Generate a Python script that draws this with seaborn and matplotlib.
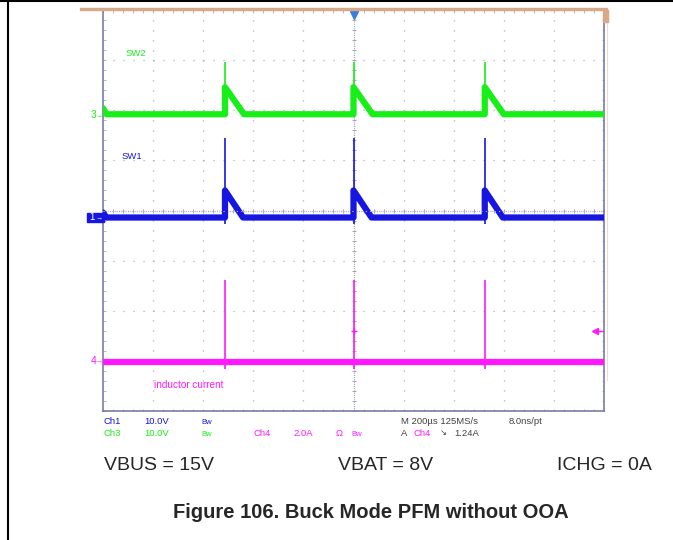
import matplotlib
matplotlib.use("Agg")
import matplotlib.pyplot as plt
from matplotlib.lines import Line2D
from matplotlib.patches import Rectangle
import pandas as pd
import seaborn as sns

# scope screen: 10 div x 200us horizontally, 8 div vertically (values in div)
pulse_t = [487, 1000, 1524]

sw2_start, sw2_base, sw2_top, sw2_drop, sw2_decay = 2.04, 1.92, 2.96, 2.46, 76
sw1_start, sw1_base, sw1_top, sw1_drop, sw1_decay, sw1_low = -0.04, -0.14, 1.44, 0.40, 72, -0.26
il_base, il_top, il_low = -3.02, -1.38, -3.16
trig_level = -2.40

GREEN = "#18ee18"
BLUE = "#1616e0"
MAGENTA = "#ff18ff"
GRAY = "#404040"
GRID = "#a4a4bc"
FRAME = "#7c7ca4"

readouts = [
    ("Ch1", 103, 422, BLUE, 6.8), ("10.0V", 144, 422, BLUE, 6.8), ("Bw", 201, 422, BLUE, 5.5),
    ("M 200µs 125MS/s", 401, 422, GRAY, 6.8), ("8.0ns/pt", 509, 422, GRAY, 6.8),
    ("Ch3", 103, 434, GREEN, 6.8), ("10.0V", 144, 434, GREEN, 6.8), ("Bw", 201, 434, GREEN, 5.5),
    ("Ch4", 253, 434, MAGENTA, 6.8), ("2.0A", 293, 434, MAGENTA, 6.8),
    ("Ω", 336, 434, MAGENTA, 6.8), ("Bw", 351, 434, MAGENTA, 5.5),
    ("A", 401, 434, GRAY, 6.8), ("Ch4", 413, 434, MAGENTA, 6.8),
    ("↘", 440, 434, GRAY, 6.0), ("1.24A", 454, 434, GRAY, 6.8),
]
conditions = ["VBUS = 15V", "VBAT = 8V", "ICHG = 0A"]
condition_x = [159, 386, 604]
caption = "Figure 106. Buck Mode PFM without OOA"

W, H = 673, 540
fx = lambda x: x / W
fy = lambda y: 1 - y / H


def trace(start, base, drop, decay):
    t, v = [0, 14], [start, base]
    for p in pulse_t:
        t += [p, p, p + decay]
        v += [base, drop, base]
    t.append(2000)
    v.append(base)
    return t, v


rows = []
for name, (t, v) in {
    "SW2": trace(sw2_start, sw2_base, sw2_drop, sw2_decay),
    "SW1": trace(sw1_start, sw1_base, sw1_drop, sw1_decay),
    "inductor current": ([0, 2000], [il_base, il_base]),
}.items():
    rows += [{"ch": name, "t": a, "v": b} for a, b in zip(t, v)]
df = pd.DataFrame(rows)

sns.set_style("white")
plt.rcParams["font.family"] = ["Liberation Sans", "DejaVu Sans"]
plt.rcParams["lines.scale_dashes"] = False

fig = plt.figure(figsize=(W / 100, H / 100), dpi=100)
ax = fig.add_axes([fx(103), fy(411), (604 - 103) / W, (411 - 10) / H])
ax.set_xlim(0, 2000)
ax.set_ylim(-4, 4)

# graticule
for x in range(200, 2000, 200):
    if x != 1000:
        ax.axvline(x, color=GRID, lw=0.9, ls=(0, (0.8, 6.4)), zorder=1)
for y in range(-3, 4):
    if y != 0:
        ax.axhline(y, color=GRID, lw=0.9, ls=(0, (0.8, 6.4)), zorder=1)
ax.axvline(1000, color=GRID, lw=0.9, ls=(0, (0.8, 0.8)), zorder=1)
ax.axhline(0, color=GRID, lw=0.9, ls=(0, (0.8, 0.8)), zorder=1)
ax.plot(range(0, 2001, 40), [0] * 51, ls="none", marker="|", ms=3.5, mew=0.7, color=GRID, zorder=1)
ax.plot([1000] * 41, [i / 5 - 4 for i in range(41)], ls="none", marker="_", ms=3.5, mew=0.7,
        color=GRID, zorder=1)

ax.set_xticks(range(0, 2001, 40))
ax.set_yticks([i / 5 - 4 for i in range(41)])
ax.tick_params(direction="in", length=1.8, width=0.7, color="#b4b4c8", top=True, right=True,
               bottom=True, left=True, labelbottom=False, labelleft=False)
for s in ax.spines.values():
    s.set_color(FRAME)
    s.set_linewidth(1.2)

# traces
sns.lineplot(data=df, x="t", y="v", hue="ch", estimator=None, sort=False,
             palette={"SW2": GREEN, "SW1": BLUE, "inductor current": MAGENTA},
             lw=4.5, legend=False, ax=ax, zorder=3)
ax.vlines(pulse_t, sw2_base, sw2_top, color=GREEN, lw=1.2, zorder=3)
ax.vlines(pulse_t, sw1_low, sw1_top, color=BLUE, lw=1.2, zorder=3)
ax.vlines(pulse_t, il_low, il_top, color=MAGENTA, lw=1.2, zorder=3)
ax.axhline(0, color="#c8c8e0", lw=0.8, ls=(0, (0.8, 2.4)), zorder=4)
ax.set_xlabel("")
ax.set_ylabel("")

# trigger markers
ax.plot(1000, 3.9, marker="v", ms=6, color="#3a7ee0", clip_on=False, zorder=5)
ax.plot(1000, trig_level, marker="+", ms=5, mew=1.0, color=MAGENTA, zorder=5)
ax.plot([1964, 2000], [trig_level] * 2, color=MAGENTA, lw=1.0, zorder=5)
ax.plot(1964, trig_level, marker="<", ms=4, color=MAGENTA, zorder=5)

# trace labels
ax.text(92, 3.14, "SW2", color=GREEN, fontsize=6.8, va="center")
ax.text(76, 1.08, "SW1", color=BLUE, fontsize=6.8, va="center")
ax.text(204, -3.48, "inductor current", color=MAGENTA, fontsize=7.2, va="center")

# channel ground markers
fig.text(fx(91), fy(115.5), "3", color=GREEN, fontsize=7.5, va="center", ha="left")
fig.text(fx(96), fy(115.5), "→", color=GREEN, fontsize=5, va="center", ha="left")
fig.patches.append(Rectangle((fx(87), fy(222)), 17 / W, 9 / H, transform=fig.transFigure,
                             color=BLUE, zorder=5))
fig.text(fx(89), fy(217.5), "1", color="white", fontsize=7, va="center", ha="left", zorder=6)
fig.text(fx(96), fy(217.5), "→", color="white", fontsize=5, va="center", ha="left", zorder=6)
fig.text(fx(91), fy(361), "4", color=MAGENTA, fontsize=7.5, va="center", ha="left")
fig.text(fx(96), fy(361), "→", color=MAGENTA, fontsize=5, va="center", ha="left")

# time-position bar
fig.patches.append(Rectangle((fx(80), fy(10)), (607 - 80) / W, 2.2 / H, transform=fig.transFigure,
                             color="#d9a888", zorder=5))
fig.patches.append(Rectangle((fx(603), fy(22)), 4.5 / W, 12 / H, transform=fig.transFigure,
                             color="#d9a888", zorder=5))
fig.add_artist(Line2D([fx(607), fx(607)], [fy(22), fy(380)], color="#f0dccc", lw=0.8))

# readouts
for txt, x, y, c, fs in readouts:
    fig.text(fx(x), fy(y), txt, color=c, fontsize=fs, va="center", ha="left")

# page frame
fig.add_artist(Line2D([0, 1], [fy(1), fy(1)], color="black", lw=1.5))
fig.add_artist(Line2D([fx(8), fx(8)], [0, fy(1)], color="black", lw=1.5))

for txt, x in zip(conditions, condition_x):
    fig.text(fx(x), fy(466), txt, fontsize=14, ha="center", va="center")
fig.text(fx(371), fy(513), caption, fontsize=14.5, fontweight="bold", ha="center", va="center")

fig.savefig("out.png", dpi=100)
